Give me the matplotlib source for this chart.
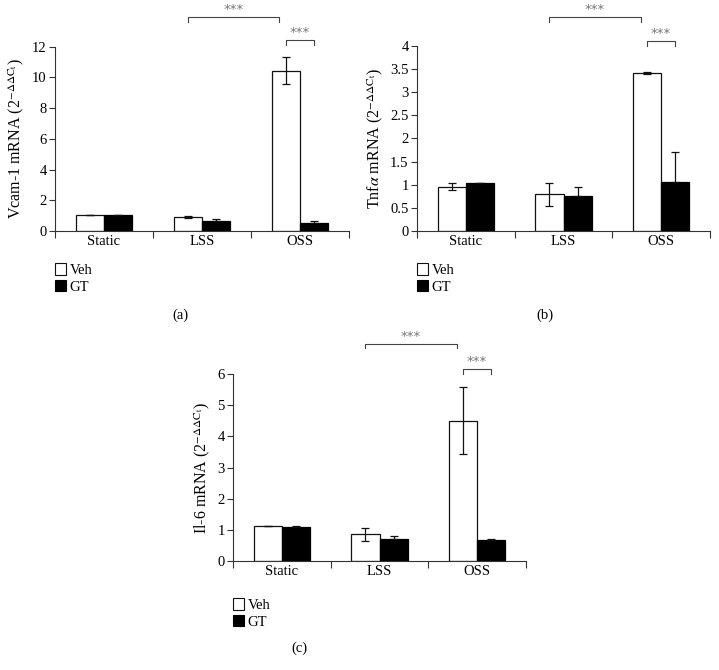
import matplotlib
matplotlib.use('Agg')
import matplotlib.pyplot as plt
from matplotlib.patches import Patch
import numpy as np

plt.rcParams['font.family'] = ['Liberation Serif', 'DejaVu Serif']
plt.rcParams['mathtext.fontset'] = 'stix'

conditions = ['Static', 'LSS', 'OSS']
groups = ['Veh', 'GT']

# panel (a) Vcam-1
vcam_veh = [1.04, 0.93, 10.43]
vcam_veh_err = [0.02, 0.06, 0.87]
vcam_gt = [1.02, 0.63, 0.52]
vcam_gt_err = [0.02, 0.12, 0.16]

# panel (b) Tnf-alpha
tnf_veh = [0.96, 0.79, 3.41]
tnf_veh_err = [0.08, 0.24, 0.02]
tnf_gt = [1.03, 0.76, 1.06]
tnf_gt_err = [0.005, 0.18, 0.65]

# panel (c) Il-6
il6_veh = [1.12, 0.85, 4.51]
il6_veh_err = [0.01, 0.2, 1.07]
il6_gt = [1.07, 0.70, 0.66]
il6_gt_err = [0.04, 0.09, 0.05]

fig = plt.figure(figsize=(7.19, 6.70), dpi=100)

W, H = 719.0, 670.0


def axes_px(left, right, bottom, top):
    return fig.add_axes([left / W, 1 - bottom / H, (right - left) / W, (bottom - top) / H])


def panel(ax, veh, veh_err, gt, gt_err, ymax, ystep, ylabel, br1, br2, tag, tag_xy, leg_xy):
    x = np.arange(len(conditions))
    bw = 0.29
    ek = dict(ecolor='#111111', elinewidth=0.9, capsize=3, capthick=0.9)
    ax.bar(x - bw / 2, veh, bw, color='white', edgecolor='#111111', linewidth=0.9,
           yerr=veh_err, error_kw=ek, zorder=2)
    # lower half of the error bar is hidden by the black bar
    ax.bar(x + bw / 2, gt, bw, color='black', edgecolor='black', linewidth=0.9,
           yerr=[[0] * len(gt_err), gt_err], error_kw=ek, zorder=2)
    ax.set_xlim(-0.5, 2.5)
    ax.set_ylim(0, ymax)
    ticks = np.arange(0, ymax + ystep / 2, ystep)
    ax.set_yticks(ticks)
    ax.set_yticklabels(['%g' % v for v in ticks])
    ax.set_xticks([-0.5, 0.5, 1.5, 2.5])
    ax.set_xticklabels([])
    ax.set_xticks(x, minor=True)
    ax.set_xticklabels(conditions, minor=True, fontsize=10.5)
    ax.tick_params(axis='x', which='major', direction='out', length=5, width=0.8, color='#333333')
    ax.tick_params(axis='x', which='minor', length=0, pad=3)
    ax.tick_params(axis='y', direction='out', length=4, width=0.8, color='#333333',
                   labelsize=10.5, pad=2)
    for s in ['top', 'right']:
        ax.spines[s].set_visible(False)
    for s in ['left', 'bottom']:
        ax.spines[s].set_linewidth(0.8)
        ax.spines[s].set_color('#333333')
    ax.set_ylabel(ylabel, fontsize=11.5, labelpad=4)

    # significance brackets
    for (x0, x1, yb, yt) in [br1, br2]:
        ax.plot([x0, x0, x1, x1], [yb, yt, yt, yb], color='#444444', lw=0.8,
                clip_on=False)
        ax.text((x0 + x1) / 2, yt + (yt - yb) * 0.2, '***', ha='center', va='bottom',
                fontsize=9.5, color='#777777', family='DejaVu Sans', clip_on=False)

    handles = [Patch(facecolor='white', edgecolor='#111111', linewidth=0.8),
               Patch(facecolor='black', edgecolor='black', linewidth=0.8)]
    fig.legend(handles, groups, loc='upper left', bbox_to_anchor=leg_xy,
               bbox_transform=fig.transFigure, frameon=False, fontsize=10.5,
               handlelength=0.75, handleheight=0.85, handletextpad=0.25,
               labelspacing=0.2, borderpad=0, borderaxespad=0)
    fig.text(tag_xy[0], tag_xy[1], tag, ha='center', va='center', fontsize=10.5)


ax_a = axes_px(55, 349, 231, 46.7)
panel(ax_a, vcam_veh, vcam_veh_err, vcam_gt, vcam_gt_err, 12, 2,
      r'Vcam-1 mRNA (2$^{-\Delta\Delta\mathrm{C_t}}$)',
      (0.855, 1.79, 13.6, 13.95), (1.86, 2.14, 12.1, 12.45),
      '(a)', (180 / W, 1 - 315 / H), (55 / W, 1 - 263 / H))

ax_b = axes_px(417, 710, 231, 45.7)
panel(ax_b, tnf_veh, tnf_veh_err, tnf_gt, tnf_gt_err, 4, 0.5,
      r'Tnf$\alpha$ mRNA (2$^{-\Delta\Delta\mathrm{C_t}}$)',
      (0.855, 1.79, 4.51, 4.62), (1.86, 2.14, 4.0, 4.11),
      '(b)', (545 / W, 1 - 315 / H), (417 / W, 1 - 263 / H))

ax_c = axes_px(233, 526, 560.7, 374.3)
panel(ax_c, il6_veh, il6_veh_err, il6_gt, il6_gt_err, 6, 1,
      r'Il-6 mRNA (2$^{-\Delta\Delta\mathrm{C_t}}$)',
      (0.855, 1.79, 6.85, 6.98), (1.86, 2.14, 6.02, 6.17),
      '(c)', (299 / W, 1 - 648 / H), (233 / W, 1 - 598 / H))

fig.savefig('out.png', dpi=100)
